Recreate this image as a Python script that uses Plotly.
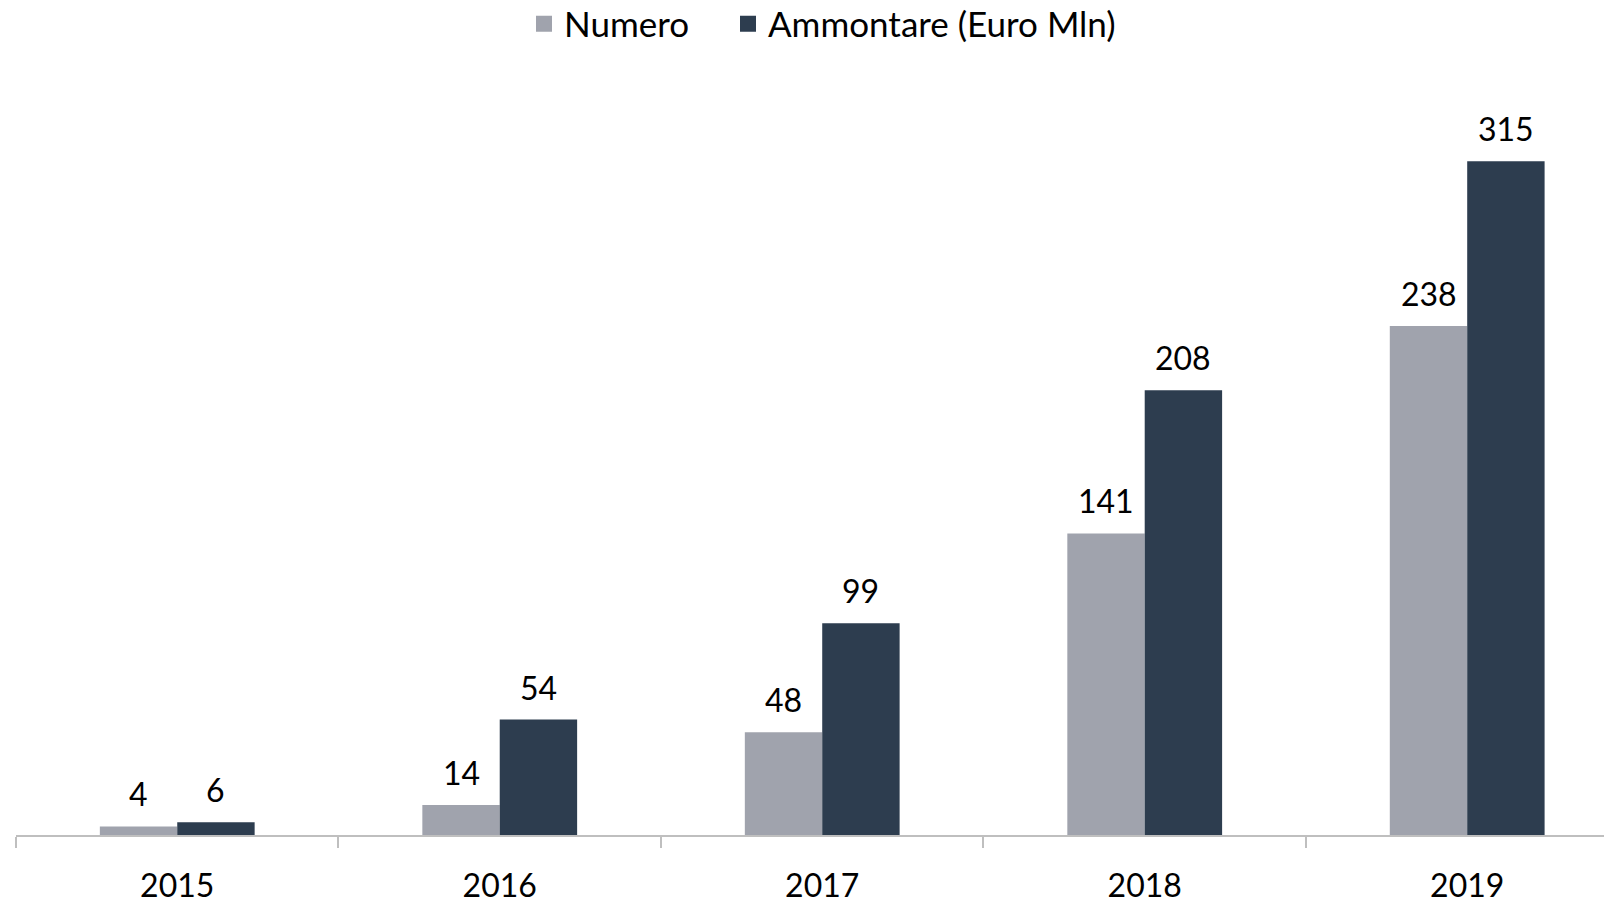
import plotly.graph_objects as go

years = ["2015", "2016", "2017", "2018", "2019"]
numero = [4, 14, 48, 141, 238]
ammontare = [6, 54, 99, 208, 315]
series_names = ["Numero", "Ammontare (Euro Mln)"]
colors = ["#a0a3ad", "#2d3d4f"]
legend_ids = ["legend", "legend2"]

FONT = "Lato"
BARGAP = 0.52
half = (1 - BARGAP) / 4  # offset of each bar centre inside a group

fig = go.Figure()
for k, (name, vals, col) in enumerate(zip(series_names, [numero, ammontare], colors)):
    fig.add_trace(go.Bar(
        x=years, y=vals, name=name, marker_color=col,
        marker_line_width=0, showlegend=False,
    ))
    # legend entry with a bigger square swatch
    fig.add_trace(go.Scatter(
        x=[None], y=[None], mode="markers", name=name, legend=legend_ids[k],
        marker=dict(symbol="square", size=21, color=col),
    ))
    sign = -1 if k == 0 else 1
    for i, v in enumerate(vals):
        fig.add_annotation(
            x=i + sign * half, y=v, text=str(v), showarrow=False,
            yanchor="bottom", xanchor="center", yshift=11,
            font=dict(family=FONT, size=32, color="#000000"),
        )

leg_common = dict(orientation="h", xanchor="left", xref="container",
                  y=1 - 16/900, yref="container", yanchor="middle",
                  font=dict(family=FONT, size=35), itemwidth=30,
                  bgcolor="rgba(0,0,0,0)")

fig.update_layout(
    width=1612, height=900,
    margin=dict(l=8, r=8, t=92, b=73),
    paper_bgcolor="white", plot_bgcolor="white",
    barmode="group", bargap=BARGAP, bargroupgap=0,
    font=dict(family=FONT, size=32, color="#000000"),
    legend=dict(x=516/1612, **leg_common),
    legend2=dict(x=720/1612, **leg_common),
    xaxis=dict(type="category", range=[-0.5, 4.449], showline=True,
               linecolor="#bfbfbf", linewidth=1.5, ticks="outside",
               tickson="boundaries", ticklen=11, tickcolor="#bfbfbf",
               tickwidth=1.5, showgrid=False, ticklabelstandoff=22,
               tickfont=dict(family=FONT, size=32), fixedrange=True,
               automargin=False),
    yaxis=dict(range=[0, 343.7], visible=False, showgrid=False,
               automargin=False),
)
fig.write_html("out.html")
